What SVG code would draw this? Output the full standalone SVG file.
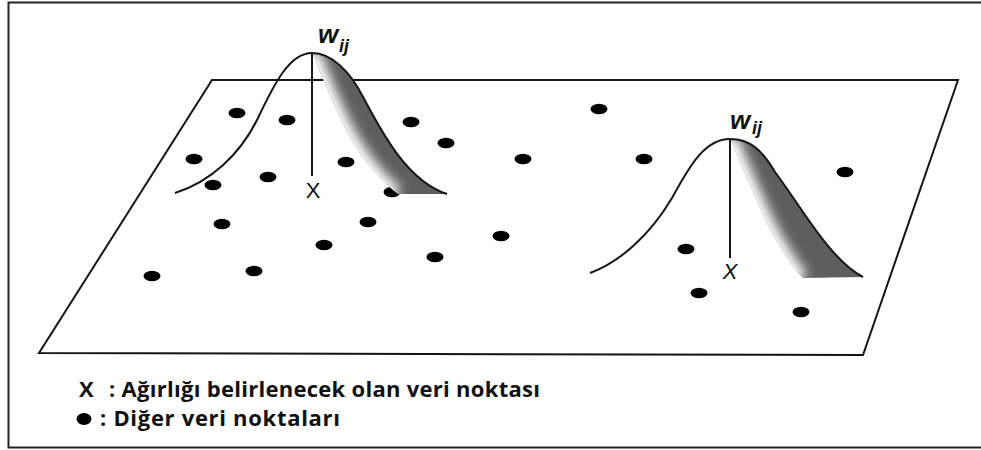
<svg xmlns="http://www.w3.org/2000/svg" width="981" height="450" viewBox="0 0 981 450">
<style>
.ln{fill:none;stroke:#151515;stroke-width:2;stroke-linejoin:miter}
.dot{fill:#000}
.lbl{font-family:"Liberation Sans",Arial,sans-serif;fill:#111}
.w{font-family:"Liberation Sans",Arial,sans-serif;fill:#111;font-style:italic;font-weight:bold}
.leg{font-family:"Open Sans","Liberation Sans",Arial,sans-serif;font-weight:bold;font-size:22px;fill:#111}
</style>
<defs>
<filter id="blur" x="-50%" y="-50%" width="200%" height="200%"><feGaussianBlur stdDeviation="6"/></filter>
<clipPath id="clip1"><path d="M313,54 C332,53 350,72 362,95 C380,128 405,180 447,194 L398,194 C377,178 357,152 345,128 C333,103 322,78 313,54 Z"/></clipPath>
<clipPath id="clip2"><path d="M731,140 C750,139 762,150 775,172 C800,205 830,260 863,277 L803,278 C790,265 775,240 763,215 C752,188 740,165 731,140 Z"/></clipPath>
</defs>
<rect x="0" y="0" width="981" height="450" fill="#fff"/>
<g id="frame">
<rect x="8.5" y="2.5" width="980" height="445" fill="none" stroke="#222" stroke-width="2"/>
</g>
<g id="plane">
<path class="ln" d="M212,80 L958,80 L863,355 L39,353 Z"/>
</g>
<g id="dots">
<ellipse class="dot" cx="237" cy="113" rx="8.5" ry="5.2"/>
<ellipse class="dot" cx="287" cy="120" rx="8.5" ry="5.2"/>
<ellipse class="dot" cx="411" cy="122" rx="8.5" ry="5.2"/>
<ellipse class="dot" cx="446" cy="143" rx="8.5" ry="5.2"/>
<ellipse class="dot" cx="194" cy="159" rx="8.5" ry="5.2"/>
<ellipse class="dot" cx="346" cy="162" rx="8.5" ry="5.2"/>
<ellipse class="dot" cx="268" cy="177" rx="8.5" ry="5.2"/>
<ellipse class="dot" cx="213" cy="185" rx="8.5" ry="5.2"/>
<ellipse class="dot" cx="392" cy="192" rx="8.5" ry="5.2"/>
<ellipse class="dot" cx="523" cy="159" rx="8.5" ry="5.2"/>
<ellipse class="dot" cx="599" cy="109" rx="8.5" ry="5.2"/>
<ellipse class="dot" cx="644" cy="159" rx="8.5" ry="5.2"/>
<ellipse class="dot" cx="845" cy="172" rx="8.5" ry="5.2"/>
<ellipse class="dot" cx="222" cy="224" rx="8.5" ry="5.2"/>
<ellipse class="dot" cx="368" cy="222" rx="8.5" ry="5.2"/>
<ellipse class="dot" cx="501" cy="236" rx="8.5" ry="5.2"/>
<ellipse class="dot" cx="324" cy="245" rx="8.5" ry="5.2"/>
<ellipse class="dot" cx="435" cy="257" rx="8.5" ry="5.2"/>
<ellipse class="dot" cx="254" cy="271" rx="8.5" ry="5.2"/>
<ellipse class="dot" cx="152" cy="276" rx="8.5" ry="5.2"/>
<ellipse class="dot" cx="686" cy="249" rx="8.5" ry="5.2"/>
<ellipse class="dot" cx="699" cy="293" rx="8.5" ry="5.2"/>
<ellipse class="dot" cx="801" cy="312" rx="8.5" ry="5.2"/>
</g>
<g id="peak1">
<g clip-path="url(#clip1)">
<rect x="300" y="45" width="160" height="160" fill="#5e5e5e"/>
<path d="M394,197 C373,180 353,152 341,128 C329,103 318,78 309,52" fill="none" stroke="#fff" stroke-width="22" filter="url(#blur)"/>
</g>
<path class="ln" d="M175,193 C210,182 240,155 258,118 C275,82 290,53 312,53 C332,53 350,72 362,95 C380,128 405,180 447,194"/>
<path class="ln" d="M312,53 L312,176"/>
<text class="lbl" x="313" y="198" font-size="22" text-anchor="middle">X</text>
<text class="w" x="318" y="43" font-size="26">w</text>
<text class="w" x="339" y="52" font-size="18">ij</text>
</g>
<g id="peak2">
<g clip-path="url(#clip2)">
<rect x="720" y="130" width="160" height="160" fill="#5e5e5e"/>
<path d="M799,281 C786,266 771,240 759,215 C748,188 736,165 727,138" fill="none" stroke="#fff" stroke-width="22" filter="url(#blur)"/>
</g>
<path class="ln" d="M590,273 C620,262 650,235 672,198 C690,165 705,139 730,139 C750,139 762,150 775,172 C800,205 830,260 863,277"/>
<path class="ln" d="M730,139 L730,258"/>
<text class="lbl" x="730" y="279" font-size="22" font-style="italic" text-anchor="middle">X</text>
<text class="w" x="730" y="129" font-size="26">w</text>
<text class="w" x="752" y="134" font-size="18">ij</text>
</g>
<g id="legend">
<text class="leg" x="79" y="397">X</text>
<text class="leg" x="109" y="397" textLength="431" lengthAdjust="spacing">: Ağırlığı belirlenecek olan veri noktası</text>
<ellipse class="dot" cx="84" cy="419" rx="7.5" ry="6"/>
<text class="leg" x="100" y="426" textLength="240" lengthAdjust="spacing">: Diğer veri noktaları</text>
</g>
</svg>
